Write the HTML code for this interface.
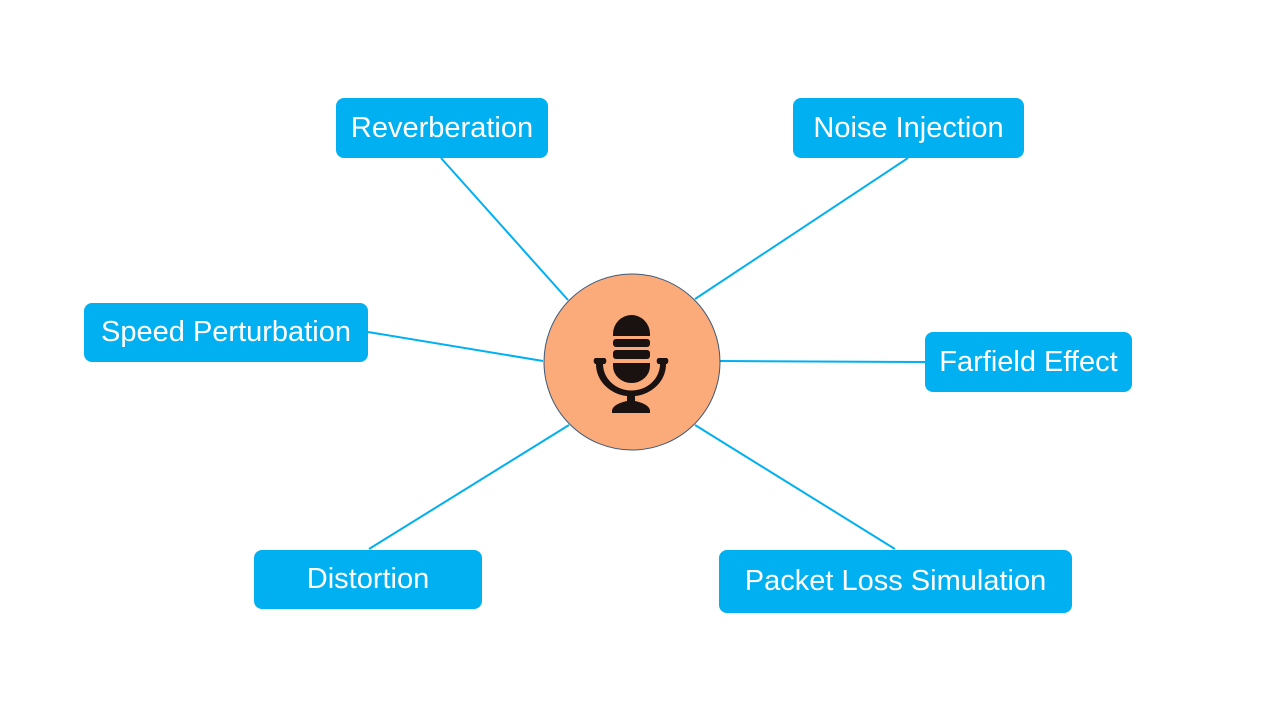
<!DOCTYPE html>
<html><head><style>
body{margin:0;width:1280px;height:720px;background:#fff;position:relative;overflow:hidden;font-family:"Liberation Sans",sans-serif}
.b{position:absolute;background:#00b0f0;color:#fff;border-radius:8px;display:flex;align-items:center;justify-content:center;font-size:29px}
svg{position:absolute;left:0;top:0}
</style></head><body>
<svg width="1280" height="720">
<g stroke="#00b0f0" stroke-width="2">
<line x1="441" y1="158" x2="568" y2="300"/>
<line x1="908" y1="158" x2="695" y2="299"/>
<line x1="368" y1="332" x2="543" y2="361"/>
<line x1="720" y1="361" x2="925" y2="362"/>
<line x1="369" y1="549" x2="569" y2="425"/>
<line x1="895" y1="549" x2="695" y2="425"/>
</g>
<circle cx="632" cy="362" r="88" fill="#fbaa7a" stroke="#3c5a7a" stroke-width="1"/>
<g fill="#1a1210">
<path d="M613,334 a18.5,19 0 0 1 37,0 V336 H613 Z"/>
<rect x="613" y="339" width="37" height="8" rx="3"/>
<rect x="613" y="350" width="37" height="9" rx="3"/>
<path d="M613,363 H650 V366 a18.5,17 0 0 1 -37,0 Z"/>
<path d="M596,358 h9 a4,4 0 0 1 0,6 h-2 a28,26 0 0 0 57,0 h-2 a4,4 0 0 1 0,-6 h9 a4,4 0 0 1 0,6 h-1 a35,32 0 0 1 -31,32 v5 c10,2 15,6 15,10 v2 h-38 v-2 c0,-4 5,-8 15,-10 v-5 a35,32 0 0 1 -31,-32 h-1 a4,4 0 0 1 0,-6 z"/>
</g>
</svg>
<div class="b" style="left:336px;top:98px;width:212px;height:60px">Reverberation</div>
<div class="b" style="left:793px;top:98px;width:231px;height:60px">Noise Injection</div>
<div class="b" style="left:84px;top:303px;width:284px;height:59px">Speed Perturbation</div>
<div class="b" style="left:925px;top:332px;width:207px;height:60px">Farfield Effect</div>
<div class="b" style="left:254px;top:550px;width:228px;height:59px">Distortion</div>
<div class="b" style="left:719px;top:550px;width:353px;height:63px">Packet Loss Simulation</div>
</body></html>
